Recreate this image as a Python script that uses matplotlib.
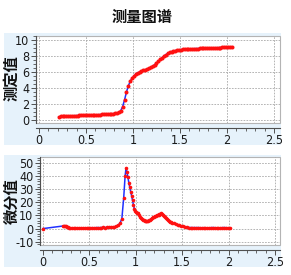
import matplotlib
matplotlib.use("Agg")
import matplotlib.pyplot as plt
from matplotlib import font_manager
from matplotlib.patches import Rectangle
from matplotlib.ticker import MultipleLocator

fl = font_manager.fontManager.ttflist
names = {f.name for f in fl}
tick_stretch = "normal"
if "Liberation Sans Narrow" in names:
    tick_font = "Liberation Sans Narrow"
    tick_size = 10
elif any(f.name == "DejaVu Sans" and f.stretch == "condensed" for f in fl):
    tick_font = "DejaVu Sans"
    tick_stretch = "condensed"
    tick_size = 9
else:
    tick_font = "Liberation Sans"
    tick_size = 9
cjk = ["Noto Sans CJK SC", "DejaVu Sans"]

title = "测量图谱"
ylabel_top = "测定值"
ylabel_bot = "微分值"
x_ticks = [0, 0.5, 1, 1.5, 2, 2.5]
x_ticklabels = ["0", "0.5", "1", "1.5", "2", "2.5"]
y_ticks_top = [0, 2, 4, 6, 8, 10]
y_ticks_bot = [-10, 0, 10, 20, 30, 40, 50]

x_top = [0.21, 0.23, 0.25, 0.27, 0.29, 0.31, 0.33, 0.35, 0.37, 0.39, 0.41, 0.43, 0.45, 0.47,
         0.49, 0.51, 0.53, 0.55, 0.57, 0.59, 0.61, 0.63, 0.65, 0.67, 0.69, 0.71, 0.73, 0.75,
         0.77, 0.79, 0.81, 0.83, 0.85, 0.87, 0.89, 0.91, 0.93, 0.95, 0.97, 0.99, 1.01, 1.03,
         1.05, 1.07, 1.09, 1.11, 1.13, 1.15, 1.17, 1.19, 1.21, 1.23, 1.25, 1.27, 1.29, 1.31,
         1.33, 1.35, 1.37, 1.39, 1.41, 1.43, 1.45, 1.47, 1.49, 1.51, 1.53, 1.55, 1.57, 1.59,
         1.61, 1.63, 1.65, 1.67, 1.69, 1.71, 1.73, 1.75, 1.77, 1.79, 1.81, 1.83, 1.85, 1.87,
         1.89, 1.91, 1.93, 1.95, 1.97, 1.99, 2.01, 2.03, 2.05]
y_top = [0.35, 0.45, 0.46, 0.47, 0.48, 0.48, 0.50, 0.50, 0.51, 0.52, 0.53, 0.54, 0.55, 0.55,
         0.56, 0.57, 0.58, 0.59, 0.60, 0.61, 0.62, 0.64, 0.65, 0.67, 0.68, 0.70, 0.72, 0.73,
         0.75, 0.77, 0.80, 0.84, 0.93, 1.15, 1.65, 2.50, 3.45, 4.25, 4.80, 5.20, 5.50, 5.72,
         5.88, 6.00, 6.10, 6.18, 6.27, 6.36, 6.46, 6.58, 6.72, 6.90, 7.10, 7.33, 7.56, 7.78,
         7.98, 8.17, 8.32, 8.45, 8.54, 8.61, 8.67, 8.72, 8.76, 8.79, 8.82, 8.84, 8.86, 8.88,
         8.89, 8.90, 8.91, 8.92, 8.93, 8.94, 8.95, 8.96, 8.97, 8.98, 8.99, 9.00, 9.01, 9.02,
         9.03, 9.04, 9.05, 9.06, 9.08, 9.09, 9.11, 9.13, 9.15]

x_bot = [0.00, 0.22, 0.23, 0.24, 0.25, 0.26, 0.27, 0.28, 0.29, 0.31, 0.33, 0.35, 0.37, 0.39,
         0.41, 0.43, 0.45, 0.47, 0.49, 0.51, 0.53, 0.55, 0.57, 0.59, 0.61, 0.63, 0.65, 0.67,
         0.69, 0.71, 0.73, 0.75, 0.77, 0.79, 0.81, 0.83, 0.85, 0.87, 0.885, 0.895, 0.905, 0.915,
         0.925, 0.935, 0.945, 0.955, 0.965, 0.975, 0.985, 0.995, 1.005, 1.015, 1.025, 1.035,
         1.045, 1.055, 1.065, 1.075, 1.085, 1.095, 1.105, 1.115, 1.125, 1.135, 1.145, 1.155,
         1.165, 1.175, 1.185, 1.195, 1.205, 1.215, 1.225, 1.235, 1.245, 1.255, 1.265, 1.275,
         1.285, 1.295, 1.305, 1.315, 1.325, 1.335, 1.345, 1.355, 1.365, 1.375, 1.39, 1.41,
         1.43, 1.45, 1.47, 1.49, 1.51, 1.53, 1.55, 1.57, 1.59, 1.61, 1.63, 1.65, 1.67, 1.69,
         1.71, 1.73, 1.75, 1.77, 1.79, 1.81, 1.83, 1.85, 1.87, 1.89, 1.91, 1.93, 1.95, 1.97,
         1.99, 2.01]
y_bot = [0.0, 2.0, 2.3, 1.7, 2.2, 1.4, 0.9, 0.5, 0.2, 0.3, 0.4, 0.3, 0.5, 0.4,
         0.5, 0.4, 0.5, 0.5, 0.6, 0.5, 0.7, 0.6, 0.7, 0.8, 0.7, 0.8, 0.9, 0.8,
         1.0, 1.0, 1.1, 1.2, 1.4, 1.8, 2.6, 4.2, 7.5, 23.5, 40.0, 46.0, 43.0, 39.0,
         35.0, 31.5, 28.0, 25.0, 21.5, 18.0, 15.0, 13.5, 12.5, 12.0, 11.5, 10.5,
         9.0, 7.8, 7.0, 6.5, 6.2, 6.0, 5.8, 5.6, 5.5, 5.8, 6.2, 6.8,
         7.4, 8.0, 8.5, 8.9, 9.2, 9.6, 10.0, 10.2, 10.4, 10.8, 11.3, 11.7,
         11.2, 10.5, 9.8, 9.0, 8.4, 7.6, 6.8, 6.0, 5.2, 4.8, 4.3, 3.9,
         3.3, 2.8, 2.4, 2.0, 1.7, 1.5, 1.0, 0.8, 0.8, 0.7, 0.8, 0.7, 0.8, 0.7,
         0.6, 0.7, 0.6, 0.5, 0.6, 0.7, 0.8, 0.7, 0.6, 0.5, 0.6, 0.7, 0.8, 0.7,
         0.6, 0.5]

W, H = 291, 275
fig = plt.figure(figsize=(W / 100, H / 100), dpi=100)
fig.patch.set_facecolor("white")

panel_color = "#e6f2fb"
for (x0, y0, x1, y1) in [(4, 33, 281, 145), (4, 155, 281, 267)]:
    fig.patches.append(Rectangle((x0 / W, 1 - y1 / H), (x1 - x0) / W, (y1 - y0) / H,
                                 transform=fig.transFigure, facecolor=panel_color,
                                 edgecolor="none", zorder=-10))

fig.text(142 / W, 1 - 17 / H, title, fontsize=11, fontweight="bold",
         family=cjk, ha="center", va="center", color="#111111")


def style(ax, xlim, ylim, yticks, yminor, ylabel, label_y):
    ax.set_facecolor("white")
    ax.set_xlim(*xlim)
    ax.set_ylim(*ylim)
    ax.set_xticks(x_ticks)
    ax.set_xticklabels(x_ticklabels)
    ax.set_yticks(yticks)
    ax.set_yticklabels([str(v) for v in yticks])
    ax.xaxis.set_minor_locator(MultipleLocator(0.1))
    ax.yaxis.set_minor_locator(MultipleLocator(yminor))
    ax.grid(True, which="major", color="#a8a8a8", linestyle=(0, (2, 1.5)), linewidth=0.6)
    ax.set_axisbelow(True)
    for s in ["top", "right"]:
        ax.spines[s].set_visible(False)
    ax.spines["left"].set_color("#505050")
    ax.spines["left"].set_linewidth(0.8)
    ax.spines["bottom"].set_color("#505050")
    ax.spines["bottom"].set_linewidth(0.8)
    ax.spines["bottom"].set_position(("outward", 3.5))
    ax.add_patch(Rectangle((0, 0), 1, 1, transform=ax.transAxes, facecolor="none",
                           edgecolor="#b4b4b4", linewidth=0.8, clip_on=False, zorder=0.5))
    ax.tick_params(which="major", length=3.5, width=0.7, color="#505050",
                   labelsize=tick_size, pad=1.2, labelcolor="#1a1a1a")
    ax.tick_params(which="minor", length=2, width=0.6, color="#505050")
    for lab in ax.get_xticklabels() + ax.get_yticklabels():
        lab.set_family(tick_font)
        lab.set_stretch(tick_stretch)
    fig.text(11.5 / W, 1 - label_y / H, ylabel, fontsize=11, fontweight="bold",
             family=cjk, rotation=90, ha="center", va="center", color="#111111")


ax1 = fig.add_axes([36 / W, 1 - 123 / H, 244 / W, 87 / H])
style(ax1, (-0.032, 2.564), (-0.4, 10.5), y_ticks_top, 0.5, ylabel_top, 78)
ax1.plot(x_top, y_top, color="#2030ff", linewidth=1.1, zorder=2)
ax1.plot(x_top, y_top, linestyle="none", marker="o", markersize=2.9,
         markerfacecolor="#ff1010", markeredgewidth=0, zorder=3)

ax2 = fig.add_axes([40 / W, 1 - 245 / H, 240 / W, 88 / H])
style(ax2, (-0.032, 2.554), (-12.5, 54.5), y_ticks_bot, 2, ylabel_bot, 201)
ax2.plot(x_bot, y_bot, color="#2030ff", linewidth=1.1, zorder=2)
ax2.plot(x_bot, y_bot, linestyle="none", marker="o", markersize=2.6,
         markerfacecolor="#ff1010", markeredgewidth=0, zorder=3)

fig.savefig("out.png", dpi=100)
